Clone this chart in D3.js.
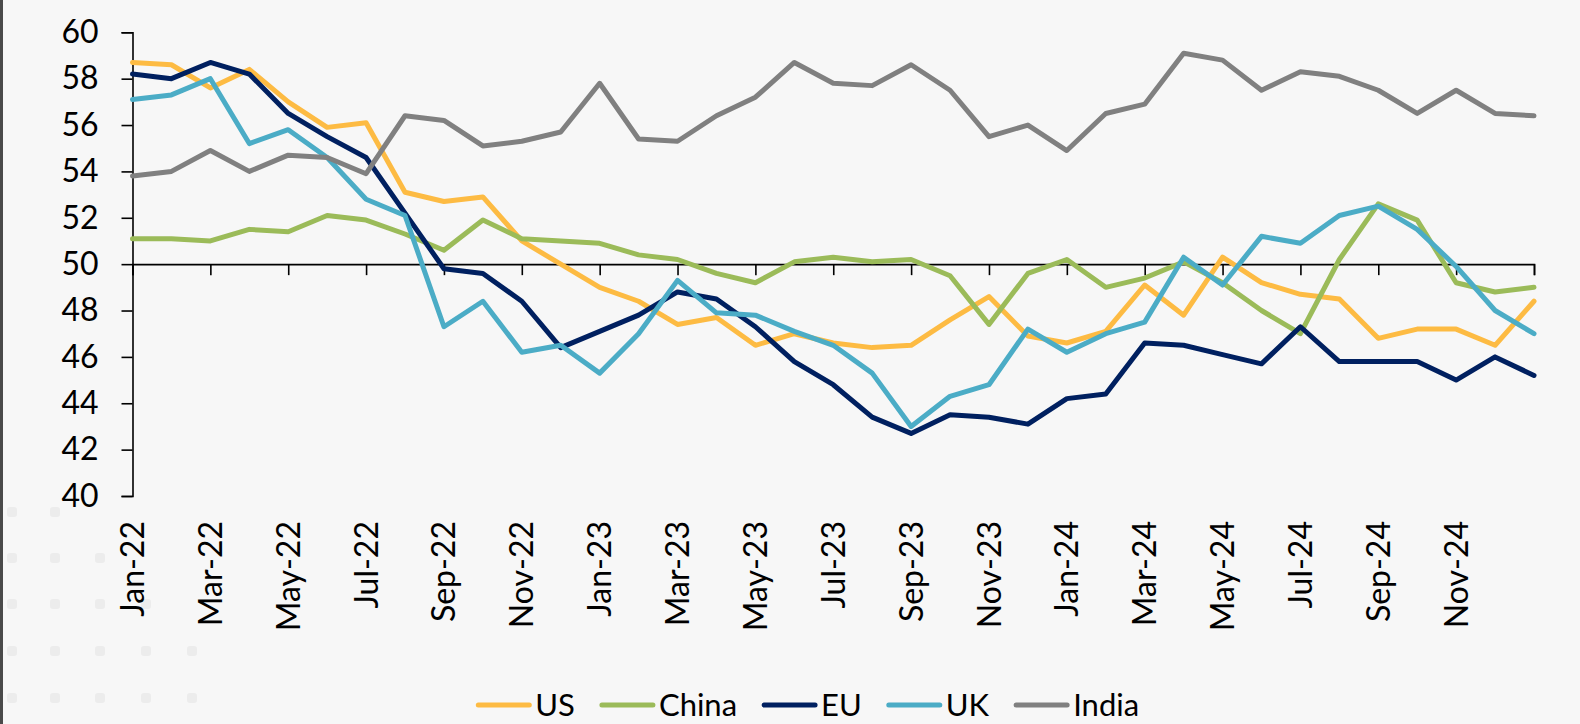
<!DOCTYPE html>
<html>
<head>
<meta charset="utf-8">
<script src="https://cdn.jsdelivr.net/npm/d3@7"></script>
<style>
  html, body { margin: 0; padding: 0; background: #f7f7f7; }
  svg { display: block; }
  text { font-family: Lato, "Open Sans", sans-serif; fill: #000; }
</style>
</head>
<body>
<svg id="chart" width="1580" height="724"></svg>
<script>
const months = [
  "Jan-22","Feb-22","Mar-22","Apr-22","May-22","Jun-22","Jul-22","Aug-22","Sep-22","Oct-22","Nov-22","Dec-22",
  "Jan-23","Feb-23","Mar-23","Apr-23","May-23","Jun-23","Jul-23","Aug-23","Sep-23","Oct-23","Nov-23","Dec-23",
  "Jan-24","Feb-24","Mar-24","Apr-24","May-24","Jun-24","Jul-24","Aug-24","Sep-24","Oct-24","Nov-24","Dec-24",
  "Jan-25"
];
const tickLabels = ["Jan-22","Mar-22","May-22","Jul-22","Sep-22","Nov-22","Jan-23","Mar-23","May-23","Jul-23",
  "Sep-23","Nov-23","Jan-24","Mar-24","May-24","Jul-24","Sep-24","Nov-24"];
const yTicks = [40,42,44,46,48,50,52,54,56,58,60];

const us    = [58.7,58.6,57.6,58.4,57.0,55.9,56.1,53.1,52.7,52.9,51.0,50.0,
               49.0,48.4,47.4,47.7,46.5,47.0,46.6,46.4,46.5,47.6,48.6,46.9,
               46.6,47.1,49.1,47.8,50.3,49.2,48.7,48.5,46.8,47.2,47.2,46.5,48.4];
const china = [51.1,51.1,51.0,51.5,51.4,52.1,51.9,51.3,50.6,51.9,51.1,51.0,
               50.9,50.4,50.2,49.6,49.2,50.1,50.3,50.1,50.2,49.5,47.4,49.6,
               50.2,49.0,49.4,50.1,49.2,48.0,47.0,50.2,52.6,51.9,49.2,48.8,49.0];
const eu    = [58.2,58.0,58.7,58.2,56.5,55.5,54.6,52.2,49.8,49.6,48.4,46.4,
               47.1,47.8,48.8,48.5,47.3,45.8,44.8,43.4,42.7,43.5,43.4,43.1,
               44.2,44.4,46.6,46.5,46.1,45.7,47.3,45.8,45.8,45.8,45.0,46.0,45.2];
const uk    = [57.1,57.3,58.0,55.2,55.8,54.6,52.8,52.1,47.3,48.4,46.2,46.5,
               45.3,47.0,49.3,47.9,47.8,47.1,46.5,45.3,43.0,44.3,44.8,47.2,
               46.2,47.0,47.5,50.3,49.1,51.2,50.9,52.1,52.5,51.5,49.9,48.0,47.0];
const india = [53.8,54.0,54.9,54.0,54.7,54.6,53.9,56.4,56.2,55.1,55.3,55.7,
               57.8,55.4,55.3,56.4,57.2,58.7,57.8,57.7,58.6,57.5,55.5,56.0,
               54.9,56.5,56.9,59.1,58.8,57.5,58.3,58.1,57.5,56.5,57.5,56.5,56.4];

const seriesNames = ["US","China","EU","UK","India"];
const seriesValues = [us, china, eu, uk, india];
const seriesColors = ["#fdbb43","#9bbb59","#002060","#4bacc6","#808080"];

const svg = d3.select("#chart");

// background + left border
svg.append("rect").attr("x",0).attr("y",0).attr("width",1580).attr("height",724).attr("fill","#f7f7f7");
svg.append("rect").attr("x",0).attr("y",0).attr("width",3).attr("height",724).attr("fill","#4a4a4a");

// faint decorative dots bottom-left
const dotRows = [512, 558, 604, 651, 698];
const dotCols = [12, 55, 100, 146, 192];
dotRows.forEach((ry, ri) => dotCols.forEach((cx, ci) => {
  if (ci - ri > 1) return;
  svg.append("rect").attr("x",cx-5).attr("y",ry-5).attr("width",10).attr("height",10)
    .attr("rx",3).attr("fill","#ececec");
}));

const x = d3.scalePoint().domain(months).range([132.5, 1534]);
const y = d3.scaleLinear().domain([40, 60]).range([496, 32.3]);

// y axis
const yAxis = d3.axisLeft(y).tickValues(yTicks).tickSize(11).tickPadding(23).tickFormat(d3.format("d"));
const gy = svg.append("g").attr("transform", `translate(${x(months[0])},0)`).call(yAxis);
gy.select(".domain").attr("stroke","#000").attr("stroke-width",1.6);
gy.selectAll(".tick line").attr("stroke","#000").attr("stroke-width",1.6);
gy.selectAll(".tick text").style("font-size","32px").style("font-family","Lato, sans-serif").attr("fill","#000");

// category axis crossing at 50
const tickMonths = months.filter((m, i) => i % 2 === 0);
const xAxis = d3.axisBottom(x).tickValues(tickMonths).tickSize(11).tickFormat("");
const gx = svg.append("g").attr("transform", `translate(0,${y(50)})`).call(xAxis);
gx.select(".domain").attr("stroke","#000").attr("stroke-width",1.6);
gx.selectAll(".tick line").attr("stroke","#000").attr("stroke-width",1.6);

// x tick labels (rotated), below plot
svg.append("g").selectAll("text").data(tickLabels).join("text")
  .attr("transform", d => `translate(${x(d)},521) rotate(-90)`)
  .attr("text-anchor","end")
  .attr("dy","0.36em")
  .style("font-size","32px")
  .text(d => d);

// lines
const line = d3.line().x((d, i) => x(months[i])).y(d => y(d));
svg.append("g").selectAll("path").data(seriesValues).join("path")
  .attr("d", d => line(d))
  .attr("fill","none")
  .attr("stroke", (d, i) => seriesColors[i])
  .attr("stroke-width", 5)
  .attr("stroke-linejoin","round")
  .attr("stroke-linecap","round");

// legend
const legend = svg.append("g");
const items = legend.selectAll("g").data(seriesNames).join("g");
items.append("line")
  .attr("x1",0).attr("x2",51).attr("y1",0).attr("y2",0)
  .attr("stroke",(d,i)=>seriesColors[i]).attr("stroke-width",5).attr("stroke-linecap","round");
items.append("text").attr("x",57).attr("dy","0.36em").style("font-size","31px").text(d=>d);
const widths = [];
items.each(function(){ widths.push(57 + this.querySelector("text").getComputedTextLength()); });
const gap = 27;
const total = d3.sum(widths) + gap*(widths.length-1);
let start = 808.7 - total/2;
items.attr("transform",(d,i)=>{ const t = `translate(${start},705)`; start += widths[i] + gap; return t; });
</script>
</body>
</html>
